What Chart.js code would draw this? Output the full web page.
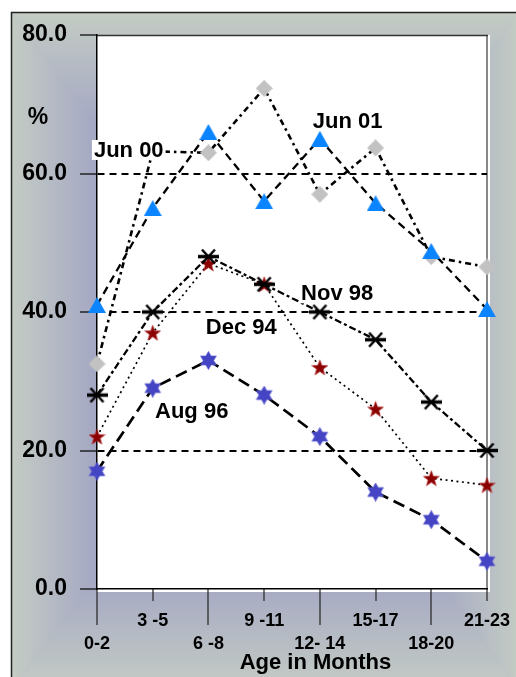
<!DOCTYPE html>
<html>
<head>
<meta charset="utf-8">
<script src="https://cdn.jsdelivr.net/npm/chart.js@4.4.1/dist/chart.umd.min.js"></script>
<style>
  html, body { margin: 0; padding: 0; background: #fff; }
  canvas { display: block; }
</style>
</head>
<body>
<canvas id="chart" width="516" height="677"></canvas>
<script>
const ageGroups = ["0-2", "3 -5", "6 -8", "9 -11", "12- 14", "15-17", "18-20", "21-23"];
const jun01 = [41, 55, 66, 56, 65, 55.7, 48.8, 40.4];
const jun00 = [32.5, 63.2, 63, 72.3, 57, 63.7, 48, 46.5];
const nov98 = [28, 40, 48, 44, 40, 36, 27, 20];
const dec94 = [22, 37, 47, 44, 32, 26, 16, 15];
const aug96 = [17, 29, 33, 28, 22, 14, 10, 4];
const yTicks = [0, 20, 40, 60, 80];

const FONT = "'Liberation Sans', Arial, sans-serif";

/* marker images */
function marker(w, h, draw) {
  const c = document.createElement("canvas");
  c.width = w; c.height = h;
  draw(c.getContext("2d"), w, h);
  return c;
}
const triangle = marker(18, 16, (g, w, h) => {
  g.fillStyle = "#0a84ff";
  g.beginPath(); g.moveTo(w / 2, 0); g.lineTo(w, h); g.lineTo(0, h); g.closePath(); g.fill();
});
const diamond = marker(17, 17, (g, w, h) => {
  g.fillStyle = "#c2c2c2";
  g.beginPath(); g.moveTo(w / 2, 0); g.lineTo(w, h / 2); g.lineTo(w / 2, h); g.lineTo(0, h / 2); g.closePath(); g.fill();
});
const asterisk = marker(21, 17, (g, w, h) => {
  g.strokeStyle = "#000";
  g.lineWidth = 3.5;
  g.beginPath(); g.moveTo(0, h / 2); g.lineTo(w, h / 2); g.stroke();
  g.lineWidth = 2.5;
  g.beginPath(); g.moveTo(4, 1.5); g.lineTo(w - 4, h - 1.5); g.moveTo(w - 4, 1.5); g.lineTo(4, h - 1.5); g.stroke();
});
function starPath(g, cx, cy, n, ro, ri) {
  g.beginPath();
  for (let k = 0; k < n * 2; k++) {
    const r = k % 2 ? ri : ro;
    const a = -Math.PI / 2 + k * Math.PI / n;
    const px = cx + r * Math.cos(a), py = cy + r * Math.sin(a);
    k ? g.lineTo(px, py) : g.moveTo(px, py);
  }
  g.closePath();
}
const star5 = marker(17, 17, (g) => {
  starPath(g, 8.5, 9.2, 5, 8.3, 3.4);
  g.fillStyle = "#8b0000"; g.fill();
  g.strokeStyle = "#b02828"; g.lineWidth = 0.6; g.stroke();
});
const star6 = marker(19, 19, (g) => {
  starPath(g, 9.5, 9.5, 6, 9.2, 5.3);
  g.fillStyle = "#4444c4"; g.fill();
  g.strokeStyle = "#6a6ad8"; g.lineWidth = 0.6; g.stroke();
});

/* frame, background, ticks, tags */
const framePlugin = {
  id: "frame",
  beforeDraw(chart) {
    const { ctx, chartArea: a, width, height } = chart;
    ctx.save();
    ctx.fillStyle = "#fff";
    ctx.fillRect(0, 0, width, height);

    const L = 11, T = 12, R = width + 4, B = height + 13;
    const cx = (L + R) / 2, cy = (T + B) / 2;
    ctx.fillStyle = "#b0b4c4";
    ctx.fillRect(L, T, R - L, B - T);
    const corners = [[L, T], [R, T], [R, B], [L, B]];
    const edges = [[cx, T], [R, cy], [cx, B], [L, cy]];
    for (let i = 0; i < 4; i++) {
      const p = corners[i], q = corners[(i + 1) % 4];
      ctx.save();
      ctx.beginPath(); ctx.moveTo(cx, cy); ctx.lineTo(p[0], p[1]); ctx.lineTo(q[0], q[1]); ctx.closePath();
      ctx.clip();
      const gr = ctx.createLinearGradient(cx, cy, edges[i][0], edges[i][1]);
      gr.addColorStop(0, "#9c9ec3");
      gr.addColorStop(0.62, "#a0a2c3");
      gr.addColorStop(1, "#c4ccc4");
      ctx.fillStyle = gr;
      ctx.fillRect(L, T, R - L, B - T);
      ctx.restore();
    }
    ctx.strokeStyle = "#222";
    ctx.lineWidth = 1.5;
    ctx.beginPath(); ctx.moveTo(L + 0.5, height); ctx.lineTo(L + 0.5, T + 0.5); ctx.lineTo(width, T + 0.5); ctx.stroke();

    // plot area
    ctx.fillStyle = "#fff";
    ctx.fillRect(a.left, a.top, a.right - a.left + 3, a.bottom - a.top + 3);
    ctx.strokeStyle = "#888";
    ctx.lineWidth = 2;
    ctx.beginPath(); ctx.moveTo(a.right, a.top); ctx.lineTo(a.right, a.bottom); ctx.stroke();
    ctx.strokeStyle = "#333";
    ctx.lineWidth = 1.5;
    ctx.beginPath(); ctx.moveTo(a.left, a.top + 0.5); ctx.lineTo(a.right + 1, a.top + 0.5); ctx.stroke();

    // x tick marks, long and short alternating
    const xs = chart.scales.x;
    ctx.strokeStyle = "#222";
    ctx.lineWidth = 1.2;
    xs.ticks.forEach((t, i) => {
      const x = Math.round(xs.getPixelForTick(i));
      const len = i % 2 ? 12 : 36;
      ctx.beginPath(); ctx.moveTo(x, a.bottom); ctx.lineTo(x, a.bottom + len); ctx.stroke();
    });

    // axis titles
    ctx.fillStyle = "#000";
    ctx.textAlign = "center";
    ctx.textBaseline = "middle";
    ctx.font = "bold 23px " + FONT;
    ctx.fillText("%", a.left - 59, a.top + 83);
    ctx.font = "bold 22px " + FONT;
    ctx.fillText("Age in Months", a.left + (a.right - a.left) * 0.56, a.bottom + 74);
    ctx.restore();
  },
  afterDatasetsDraw(chart) {
    const { ctx } = chart;
    const xs = chart.scales.x, ys = chart.scales.y;
    // series name tags: category index, y value
    const tags = [
      ["Jun 00", 0.57, 63.4],
      ["Jun 01", 4.5, 67.6],
      ["Nov 98", 4.31, 42.7],
      ["Dec 94", 2.59, 37.8],
      ["Aug 96", 1.7, 25.7]
    ];
    ctx.save();
    ctx.font = "bold 22px " + FONT;
    ctx.textAlign = "center";
    ctx.textBaseline = "middle";
    tags.forEach(([txt, xi, yv]) => {
      const x = xs.getPixelForValue(xi), y = ys.getPixelForValue(yv);
      const w = ctx.measureText(txt).width;
      ctx.fillStyle = "#fff";
      ctx.fillRect(x - w / 2 - 2, y - 10, w + 4, 20);
      ctx.fillStyle = "#000";
      ctx.fillText(txt, x, y + 1);
    });
    ctx.restore();
  }
};

const common = { tension: 0, clip: false, fill: false, borderColor: "#000", pointRadius: 8 };

new Chart(document.getElementById("chart"), {
  type: "line",
  data: {
    labels: ageGroups,
    datasets: [
      { ...common, label: "Jun 01", data: jun01, borderDash: [8, 5], borderWidth: 2.3, pointStyle: triangle },
      { ...common, label: "Jun 00", data: jun00, borderDash: [6, 4, 2.5, 4], borderWidth: 2.6, pointStyle: diamond },
      { ...common, label: "Nov 98", data: nov98, borderDash: [7, 3, 3, 3], borderWidth: 2.3, pointStyle: asterisk },
      { ...common, label: "Dec 94", data: dec94, borderDash: [2, 3.5], borderWidth: 1.7, pointStyle: star5 },
      { ...common, label: "Aug 96", data: aug96, borderDash: [12, 6], borderWidth: 2.7, pointStyle: star6 }
    ]
  },
  options: {
    responsive: false,
    animation: false,
    events: [],
    devicePixelRatio: 1,
    layout: { padding: { top: 35, right: 29, left: 0, bottom: 0 } },
    plugins: { legend: { display: false }, tooltip: { enabled: false } },
    scales: {
      x: {
        offset: false,
        afterFit: s => { s.height = 88; },
        ticks: {
          autoSkip: false, maxRotation: 0, minRotation: 0, padding: 0, color: "#000",
          font: { family: FONT, size: 18, weight: "bold", lineHeight: 23 / 18 },
          callback: (v, i) => i % 2 ? ageGroups[i] : ["", ageGroups[i]]
        },
        // invisible tick marks only push the labels down; visible ones are drawn by the plugin
        grid: { drawOnChartArea: false, drawTicks: true, tickLength: 20.5, tickColor: "rgba(0,0,0,0)" },
        border: { color: "#000", width: 1.5 }
      },
      y: {
        min: 0, max: 80,
        afterBuildTicks: s => { s.ticks = yTicks.map(v => ({ value: v })); },
        afterFit: s => { s.width = 97; },
        ticks: {
          padding: 13, color: "#000",
          font: { family: FONT, size: 23, weight: "bold" },
          callback: v => Number(v).toFixed(1)
        },
        grid: {
          color: c => (c.tick && c.tick.value > 0 && c.tick.value < 80) ? "#000" : "rgba(0,0,0,0)",
          lineWidth: 2, tickColor: "#000", tickLength: 17, tickWidth: 1.2
        },
        border: { color: "#000", width: 1.5, dash: [7, 5] }
      }
    }
  },
  plugins: [framePlugin]
});
</script>
</body>
</html>
